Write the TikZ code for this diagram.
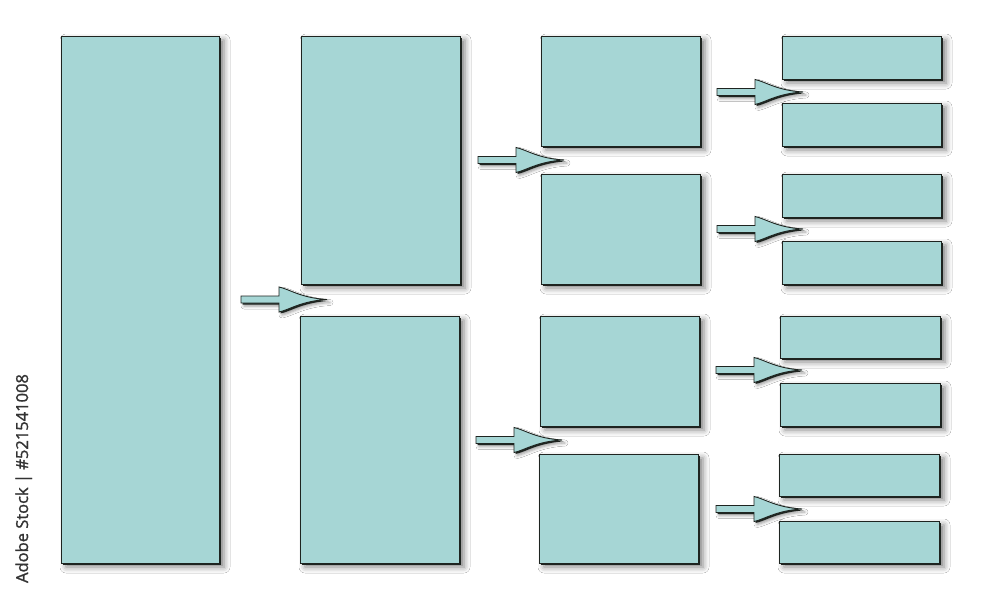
\documentclass[tikz,border=0pt]{standalone}
\usepackage{fontspec}
\newfontfamily\wmfont[FakeBold=1.2]{Open Sans}
\usetikzlibrary{shadows,shadows.blur}
\definecolor{tealfill}{HTML}{A6D6D5}
\definecolor{edge}{HTML}{1E2420}
\tikzset{
  boxsty/.style={draw=edge, line width=0.9pt, fill=tealfill, inner sep=0pt,
    blur shadow={shadow xshift=5pt, shadow yshift=-4pt, shadow blur radius=6pt, shadow opacity=50},
    general shadow={fill=edge, shadow xshift=2pt, shadow yshift=-1.5pt}},
  arrowsty/.style={draw=edge, line width=0.9pt, fill=tealfill,
    blur shadow={shadow xshift=3pt, shadow yshift=-3pt, shadow blur radius=3pt, shadow opacity=40},
    general shadow={fill=edge, shadow xshift=1.5pt, shadow yshift=-1.5pt}},
  fatarrow/.pic={
    \path[arrowsty] (0,-3.5) -- (38,-3.5) -- (38,-12.5)
      .. controls (48,-10.5) and (60,-1.5) .. (86,0)
      .. controls (60,1.5) and (48,10.5) .. (38,12.5)
      -- (38,3.5) -- (0,3.5) -- cycle;
  }
}
\begin{document}
\begin{tikzpicture}[x=1pt,y=-1pt]
\useasboundingbox[fill=white] (0,0) rectangle (1000,600);
% column 1
\node[boxsty, minimum width=158pt, minimum height=527pt] (L) at (140,299.5) {};
% column 2
\node[boxsty, minimum width=159pt, minimum height=248pt] (Ba) at (380.5,160) {};
\node[boxsty, minimum width=159pt, minimum height=247pt] (Bb) at (379.5,439.5) {};
% column 3
\node[boxsty, minimum width=159pt, minimum height=110pt] (C1) at (620.5,91) {};
\node[boxsty, minimum width=159pt, minimum height=110pt] (C2) at (620.5,229) {};
\node[boxsty, minimum width=159pt, minimum height=110pt] (C3) at (619.5,371) {};
\node[boxsty, minimum width=159pt, minimum height=109pt] (C4) at (618.5,508.5) {};
% column 4
\node[boxsty, minimum width=159pt, minimum height=43pt] (D1) at (861.5,57.5) {};
\node[boxsty, minimum width=159pt, minimum height=43pt] (D2) at (861.5,124.5) {};
\node[boxsty, minimum width=159pt, minimum height=43pt] (D3) at (861.5,195.5) {};
\node[boxsty, minimum width=159pt, minimum height=43pt] (D4) at (861.5,262.5) {};
\node[boxsty, minimum width=160pt, minimum height=42pt] (D5) at (860,337) {};
\node[boxsty, minimum width=160pt, minimum height=43pt] (D6) at (860,404.5) {};
\node[boxsty, minimum width=160pt, minimum height=42pt] (D7) at (859,475) {};
\node[boxsty, minimum width=160pt, minimum height=42pt] (D8) at (859,542) {};
% arrows
\pic (a1) at (241,299.5) {fatarrow};
\pic (a2) at (478,160) {fatarrow};
\pic (a3) at (476,440) {fatarrow};
\pic (a4) at (717,92) {fatarrow};
\pic (a5) at (717,229) {fatarrow};
\pic (a6) at (716,370) {fatarrow};
\pic (a7) at (716,509) {fatarrow};
% vertical credit text
\node[rotate=90, anchor=base, inner sep=0pt, text=black!80, font=\wmfont\fontsize{16.5}{19}\selectfont] (wm) at (28,478.5) {Adobe Stock | \#521541008};
\end{tikzpicture}
\end{document}
